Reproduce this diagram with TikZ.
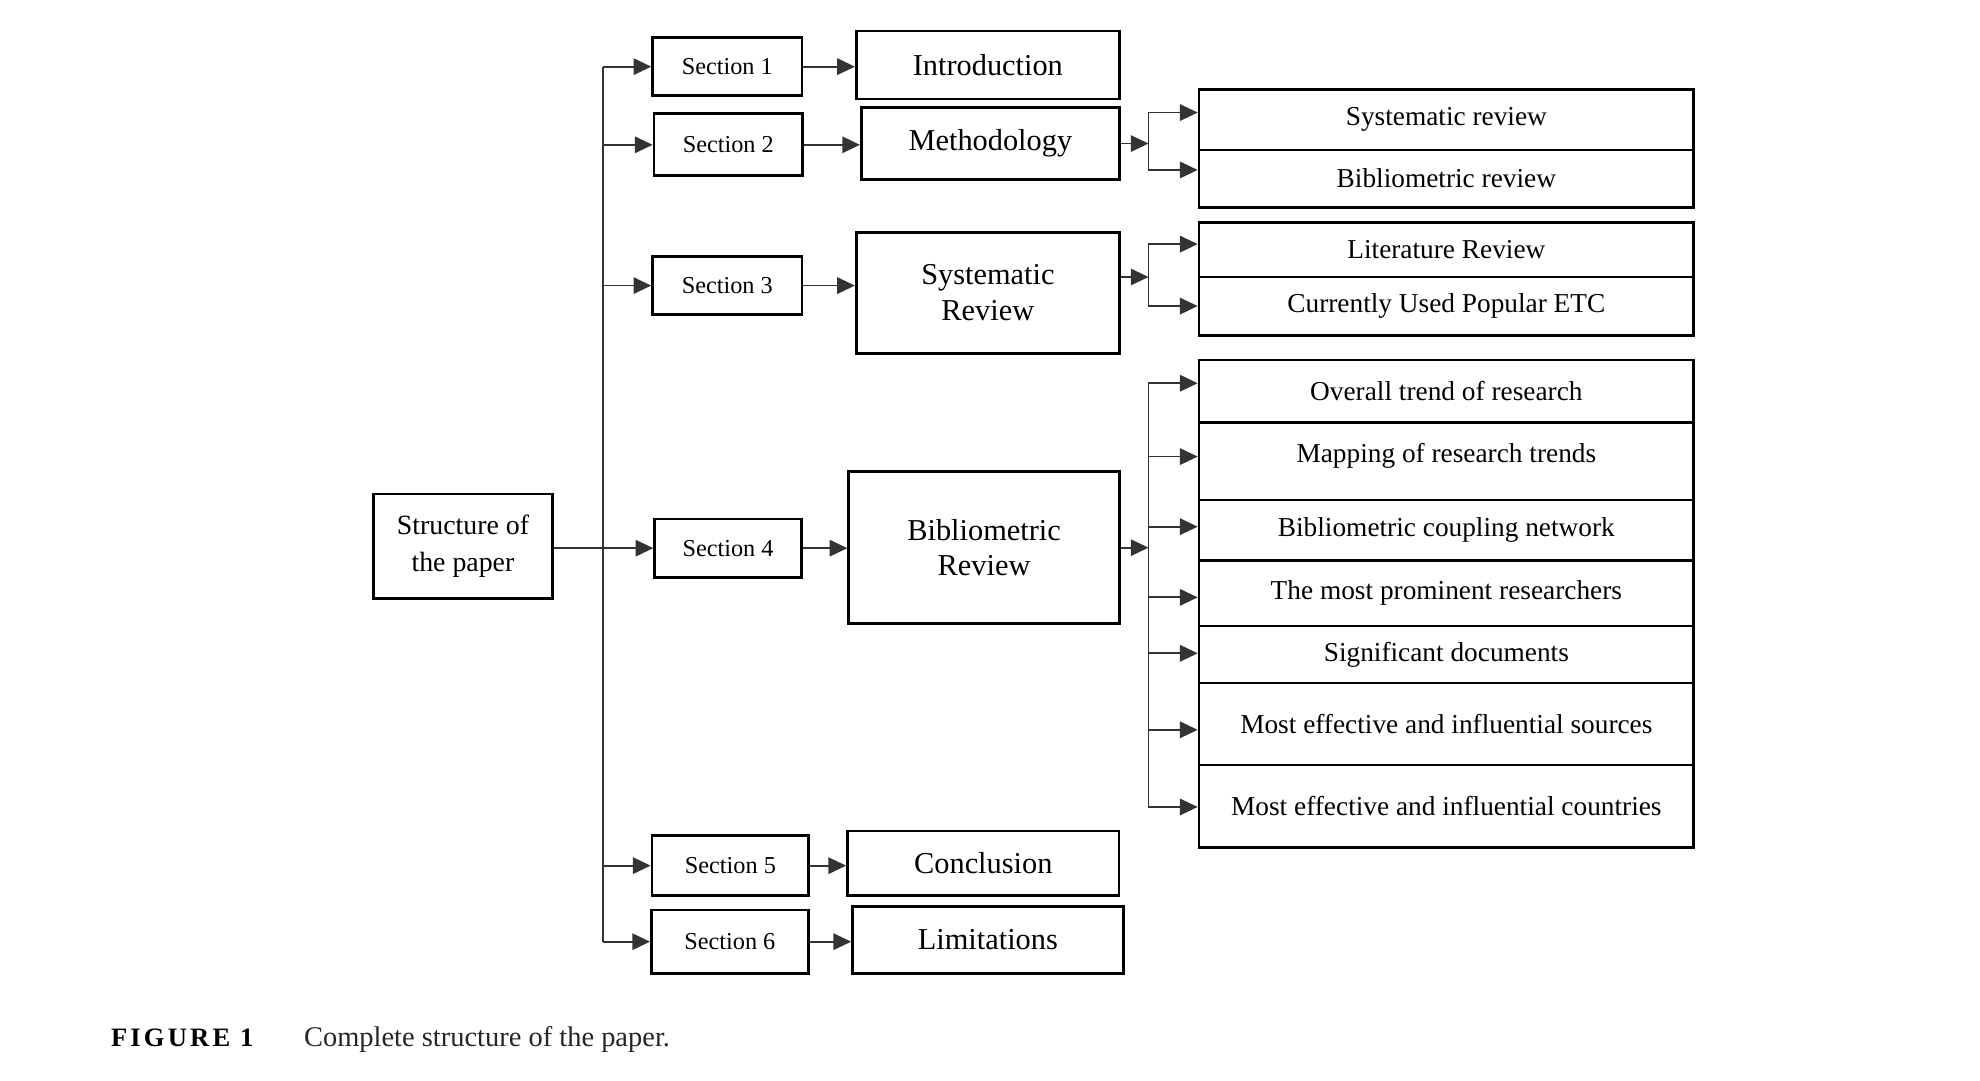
\documentclass[tikz,border=0pt]{standalone}
\usepackage{fontspec}
\setmainfont{Liberation Serif}
\newfontfamily\figfont[LetterSpace=12,BoldFont={Liberation Serif Bold}]{Liberation Serif}
\usetikzlibrary{arrows.meta}
\begin{document}
\begin{tikzpicture}[x=0.5pt,y=-0.5pt,
  box/.style={draw=black, line width=1.1pt, inner sep=0pt, align=center, text=black},
  secbox/.style={box, font=\fontsize{9.6}{11}\selectfont},
  midbox/.style={box, font=\fontsize{12}{14}\selectfont},
  rbox/.style={box, minimum width=195.5pt, font=\fontsize{10.8}{13}\selectfont},
  conn/.style={draw=black!80, line width=0.7pt},
  arr/.style={conn, -{Triangle[length=7pt,width=6.5pt]}}
]
\useasboundingbox (0,0) rectangle (1565.4,853.9);

% root
\node[box, minimum width=71pt, minimum height=41.2pt, font=\fontsize{11}{14.5}\selectfont] (root) at (366,431.8) {Structure of\\the paper};

% sections
\node[secbox, minimum width=59pt, minimum height=22.9pt] (s1) at (575,52.7) {Section 1};
\node[secbox, minimum width=58.75pt, minimum height=24.5pt] (s2) at (575.8,114.5) {Section 2};
\node[secbox, minimum width=59pt, minimum height=22.75pt] (s3) at (575,225.8) {Section 3};
\node[secbox, minimum width=58pt, minimum height=23pt] (s4) at (575.6,433.4) {Section 4};
\node[secbox, minimum width=62pt, minimum height=23.65pt] (s5) at (577.5,684.4) {Section 5};
\node[secbox, minimum width=62pt, minimum height=25pt] (s6) at (577,744.5) {Section 6};

% middle boxes
\node[midbox, minimum width=104pt, minimum height=26.9pt] (intro) at (781,51.4) {Introduction};
\node[midbox, minimum width=102pt, minimum height=28.5pt] (meth) at (783,113.5) {Methodology};
\node[midbox, minimum width=104pt, minimum height=47.85pt] (sysrev) at (781,231.5) {Systematic\\Review};
\node[midbox, minimum width=107pt, minimum height=60pt] (bibrev) at (778,433) {Bibliometric\\Review};
\node[midbox, minimum width=107.35pt, minimum height=25.5pt] (concl) at (777.4,682.5) {Conclusion};
\node[midbox, minimum width=107pt, minimum height=26.35pt] (limit) at (781,743) {Limitations};

% right column
\node[rbox, minimum height=23.8pt] (r1) at (1143.5,94.8) {Systematic review};
\node[rbox, minimum height=22.6pt] (r2) at (1143.5,141.2) {Bibliometric review};
\node[rbox, minimum height=21.5pt] (r3) at (1143.5,197.5) {Literature Review};
\node[rbox, minimum height=23pt] (r4) at (1143.5,242) {Currently Used Popular ETC};
\node[rbox, minimum height=24.7pt] (r5) at (1143.5,309.3) {Overall trend of research};
\node[rbox, minimum height=30.65pt] (r6) at (1143.5,364.65) {\raisebox{6.6pt}{Mapping of research trends}};
\node[rbox, minimum height=24pt] (r7) at (1143.5,419.3) {Bibliometric coupling network};
\node[rbox, minimum height=25.85pt] (r8) at (1143.5,469.15) {The most prominent researchers};
\node[rbox, minimum height=22.5pt] (r9) at (1143.5,517.5) {Significant documents};
\node[rbox, minimum height=32.4pt] (r10) at (1143.5,572.4) {Most effective and influential sources};
\node[rbox, minimum height=32.6pt] (r11) at (1143.5,637.4) {Most effective and influential countries};

% trunk
\coordinate (trunk) at (477,0);
\draw[conn] (s1.west -| trunk) -- (s6.west -| trunk);
\draw[arr] (s1.west -| trunk) -- (s1.west);
\draw[arr] (s2.west -| trunk) -- (s2.west);
\draw[arr] (s3.west -| trunk) -- (s3.west);
\draw[arr] (root.east |- s4.west) -- (s4.west);
\draw[arr] (s5.west -| trunk) -- (s5.west);
\draw[arr] (s6.west -| trunk) -- (s6.west);

% sections to topics
\draw[arr] (s1.east) -- (s1.east -| intro.west);
\draw[arr] (s2.east) -- (s2.east -| meth.west);
\draw[arr] (s3.east) -- (s3.east -| sysrev.west);
\draw[arr] (s4.east) -- (s4.east -| bibrev.west);
\draw[arr] (s5.east) -- (s5.east -| concl.west);
\draw[arr] (s6.east) -- (s6.east -| limit.west);

% bracket for methodology
\coordinate (ma) at (908,89);
\coordinate (mb) at (908,134.4);
\draw[arr] (meth.east) -- (meth.east -| ma);
\draw[conn] (ma) -- (mb);
\draw[arr] (ma) -- (ma -| r1.west);
\draw[arr] (mb) -- (mb -| r2.west);

% bracket for systematic review
\coordinate (sa) at (908,193);
\coordinate (sb) at (908,242);
\coordinate (sin) at (908,219);
\draw[arr] (sysrev.east |- sin) -- (sin);
\draw[conn] (sa) -- (sb);
\draw[arr] (sa) -- (sa -| r3.west);
\draw[arr] (sb) -- (sb -| r4.west);

% bracket for bibliometric review
\coordinate (b5) at (908,303);
\coordinate (b6) at (908,361);
\coordinate (b7) at (908,416.4);
\coordinate (b8) at (908,472.3);
\coordinate (b9) at (908,516.5);
\coordinate (b10) at (908,577);
\coordinate (b11) at (908,638);
\draw[arr] (bibrev.east) -- (bibrev.east -| b5);
\draw[conn] (b5) -- (b11);
\draw[arr] (b5) -- (b5 -| r5.west);
\draw[arr] (b6) -- (b6 -| r6.west);
\draw[arr] (b7) -- (b7 -| r7.west);
\draw[arr] (b8) -- (b8 -| r8.west);
\draw[arr] (b9) -- (b9 -| r9.west);
\draw[arr] (b10) -- (b10 -| r10.west);
\draw[arr] (b11) -- (b11 -| r11.west);

% caption
\node[anchor=base west, inner sep=0pt, font=\figfont\fontsize{10.5}{12}\selectfont\bfseries, text=black] (figlab) at (87.4,827) {FIGURE 1};
\node[anchor=base west, inner sep=0pt, font=\fontsize{11.25}{13}\selectfont, text=black!85] (figcap) at (240,827) {Complete structure of the paper.};
\end{tikzpicture}
\end{document}
